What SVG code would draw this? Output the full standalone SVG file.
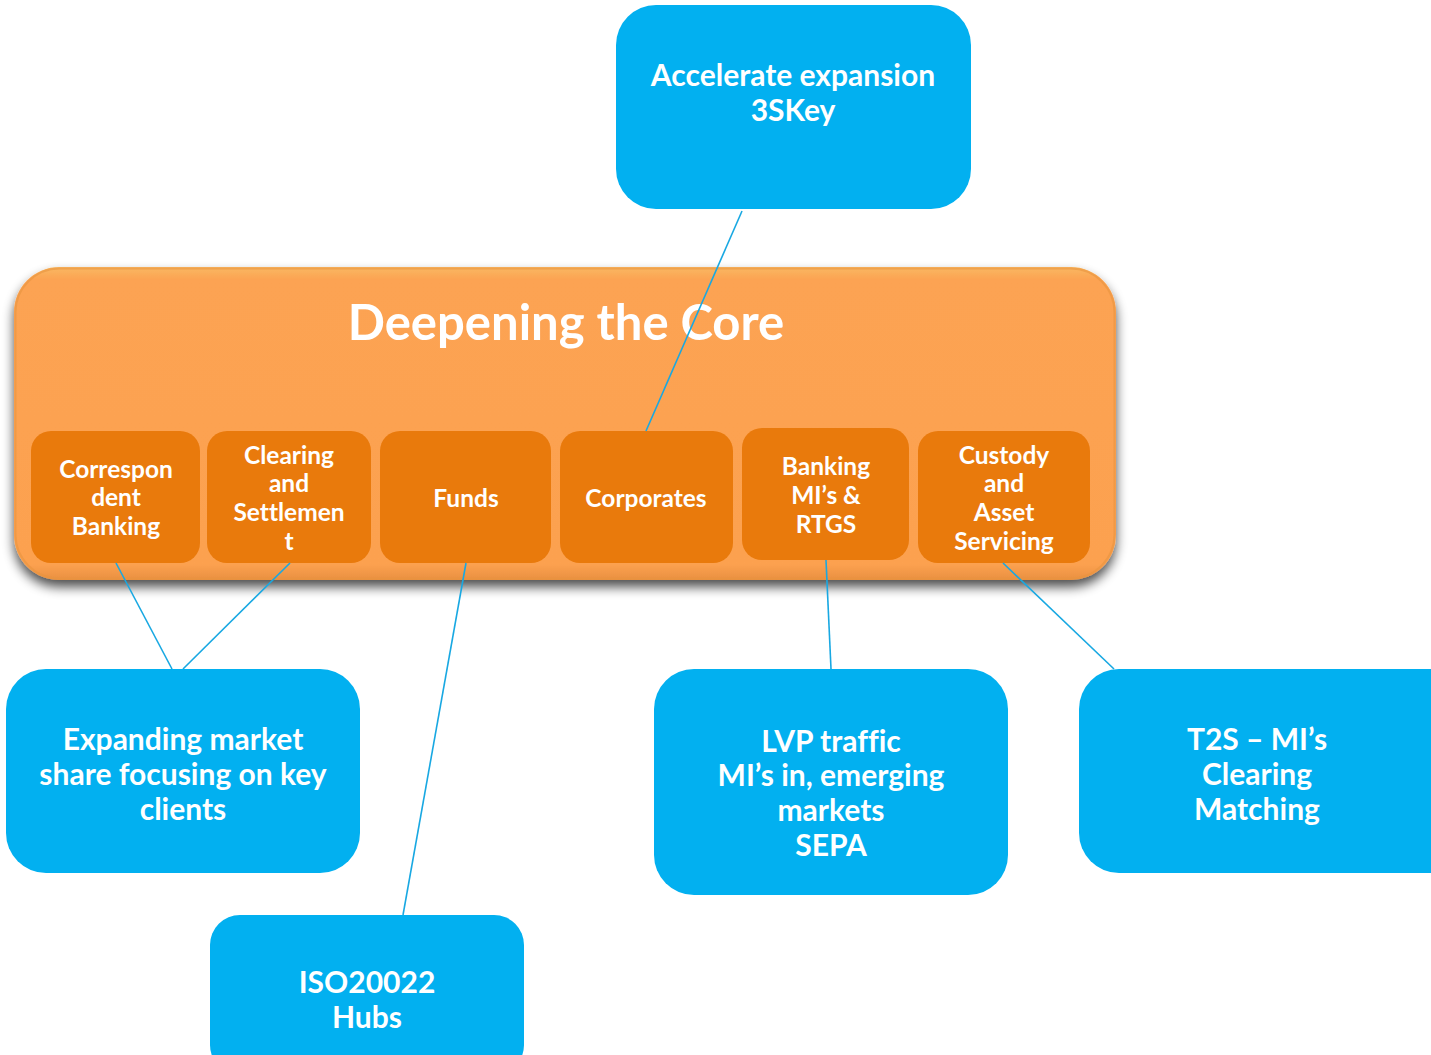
<svg xmlns="http://www.w3.org/2000/svg" width="1431" height="1055" viewBox="0 0 1431 1055">
<defs>
<linearGradient id="og" x1="0" y1="0" x2="0" y2="1">
<stop offset="0" stop-color="#F9B862"/>
<stop offset="0.04" stop-color="#FCA352"/>
<stop offset="0.95" stop-color="#FCA150"/>
<stop offset="1" stop-color="#E99040"/>
</linearGradient>
<filter id="sh" x="-5%" y="-10%" width="110%" height="125%">
<feGaussianBlur in="SourceAlpha" stdDeviation="6"/>
<feOffset dx="0" dy="7" result="b"/>
<feComponentTransfer><feFuncA type="linear" slope="0.7"/></feComponentTransfer>
<feMerge><feMergeNode/><feMergeNode in="SourceGraphic"/></feMerge>
</filter>
</defs>
<style>
.t{font-family:Lato,"Open Sans","Liberation Sans",sans-serif;font-weight:700;fill:#fff;text-anchor:middle;font-variant-ligatures:none}
.s{font-size:24.5px}
.b{font-size:30px}
.sm{fill:#E97A0C}
.bl{fill:#02B0F0}
.c{stroke:#18A8E2;stroke-width:1.6;fill:none}
</style>
<g id="core">
<rect x="14" y="267" width="1102" height="313" rx="45" fill="url(#og)" filter="url(#sh)"/>
<rect x="15.5" y="268.5" width="1099" height="310" rx="44" fill="none" stroke="#E8953F" stroke-width="2" opacity="0.6"/>
<text class="t" x="566" y="340" font-size="49">Deepening the Core</text>
</g>
<g id="n-correspondent">
<rect class="sm" x="31" y="431" width="169" height="132" rx="20"/>
<text class="t s" x="116" y="478">Correspon</text>
<text class="t s" x="116" y="506">dent</text>
<text class="t s" x="116" y="535">Banking</text>
</g>
<g id="n-clearing">
<rect class="sm" x="207" y="431" width="164" height="132" rx="20"/>
<text class="t s" x="289" y="464">Clearing</text>
<text class="t s" x="289" y="492">and</text>
<text class="t s" x="289" y="521">Settlemen</text>
<text class="t s" x="289" y="550">t</text>
</g>
<g id="n-funds">
<rect class="sm" x="380" y="431" width="171" height="132" rx="20"/>
<text class="t s" x="466" y="507">Funds</text>
</g>
<g id="n-corporates">
<rect class="sm" x="560" y="431" width="173" height="132" rx="20"/>
<text class="t s" x="646" y="507">Corporates</text>
</g>
<g id="n-banking">
<rect class="sm" x="742" y="428" width="167" height="132" rx="20"/>
<text class="t s" x="826" y="475">Banking</text>
<text class="t s" x="826" y="504">MI’s &amp;</text>
<text class="t s" x="826" y="533">RTGS</text>
</g>
<g id="n-custody">
<rect class="sm" x="918" y="431" width="172" height="132" rx="20"/>
<text class="t s" x="1004" y="464">Custody</text>
<text class="t s" x="1004" y="492">and</text>
<text class="t s" x="1004" y="521">Asset</text>
<text class="t s" x="1004" y="550">Servicing</text>
</g>
<g id="connectors">
<line class="c" x1="742" y1="211" x2="646" y2="431"/>
<line class="c" x1="116" y1="563" x2="172" y2="669"/>
<line class="c" x1="290" y1="563" x2="183" y2="669"/>
<line class="c" x1="466" y1="563" x2="403" y2="915"/>
<line class="c" x1="826" y1="560" x2="831" y2="669"/>
<line class="c" x1="1003" y1="563" x2="1114" y2="669"/>
</g>
<g id="n-accelerate">
<rect class="bl" x="616" y="5" width="355" height="204" rx="40"/>
<text class="t b" x="793" y="86">Accelerate expansion</text>
<text class="t b" x="793" y="121">3SKey</text>
</g>
<g id="n-expanding">
<rect class="bl" x="6" y="669" width="354" height="204" rx="40"/>
<text class="t b" x="183" y="750">Expanding market</text>
<text class="t b" x="183" y="785">share focusing on key</text>
<text class="t b" x="183" y="820">clients</text>
</g>
<g id="n-iso">
<rect class="bl" x="210" y="915" width="314" height="160" rx="30"/>
<text class="t b" x="367" y="993">ISO20022</text>
<text class="t b" x="367" y="1028">Hubs</text>
</g>
<g id="n-lvp">
<rect class="bl" x="654" y="669" width="354" height="226" rx="40"/>
<text class="t b" x="831" y="752">LVP traffic</text>
<text class="t b" x="831" y="786">MI’s in, emerging</text>
<text class="t b" x="831" y="821">markets</text>
<text class="t b" x="831" y="856">SEPA</text>
</g>
<g id="n-t2s">
<rect class="bl" x="1079" y="669" width="392" height="204" rx="40"/>
<text class="t b" x="1257" y="750">T2S – MI’s</text>
<text class="t b" x="1257" y="785">Clearing</text>
<text class="t b" x="1257" y="820">Matching</text>
</g>
</svg>
